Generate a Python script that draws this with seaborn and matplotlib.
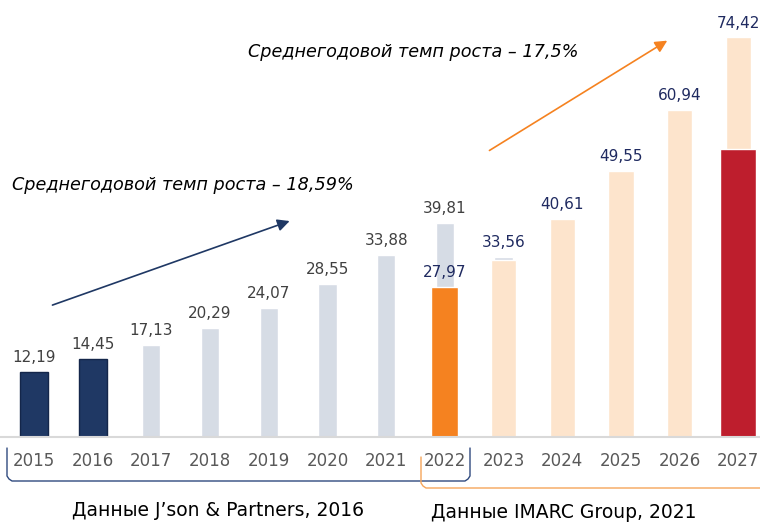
import matplotlib
matplotlib.use("Agg")
import matplotlib.pyplot as plt
from matplotlib.transforms import Affine2D
import seaborn as sns

# data
years = [str(y) for y in range(2015, 2028)]

fact_years = ["2015", "2016"]
fact_values = [12.19, 14.45]

jp_years = ["2017", "2018", "2019", "2020", "2021", "2022", "2023"]
jp_values = [17.13, 20.29, 24.07, 28.55, 33.88, 39.81, 33.56]

imarc_fact_years = ["2022"]
imarc_fact_values = [27.97]

imarc_years = ["2023", "2024", "2025", "2026", "2027"]
imarc_values = [32.9, 40.61, 49.55, 60.94, 74.42]

red_years = ["2027"]
red_values = [53.6]

label_years = years[:8] + ["2022"] + years[8:]
label_values = [12.19, 14.45, 17.13, 20.29, 24.07, 28.55, 33.88, 39.81,
                27.97, 33.56, 40.61, 49.55, 60.94, 74.42]

NAVY = "#1F3864"
GREY_BAR = "#D6DCE5"
ORANGE = "#F58220"
PEACH = "#FDE4CC"
RED = "#BE1E2D"
LABEL_GREY = "#404040"
LABEL_NAVY = "#1F2A60"

sns.set_theme(style="white")
plt.rcParams["font.family"] = ["DejaVu Sans"]

fig = plt.figure(figsize=(7.6, 5.24), dpi=100)
ax = fig.add_axes([0, 1 - 437 / 524, 1, 437 / 524])


def bars(yrs, vals, color, width, **kw):
    sns.barplot(x=yrs, y=vals, order=years, color=color, width=width,
                saturation=1, errorbar=None, ax=ax, **kw)


bars(jp_years, jp_values, GREY_BAR, 0.31)
bars(imarc_years, imarc_values, PEACH, 0.43)
bars(fact_years, fact_values, NAVY, 0.48, edgecolor="#14264a", linewidth=1)
bars(imarc_fact_years, imarc_fact_values, ORANGE, 0.46)
bars(red_years, red_values, RED, 0.61)

ax.set_xlim(-0.579, 12.37)
ax.set_ylim(0, 81.4)
ax.axhline(0, color="#D9D9D9", lw=1.5, clip_on=False, zorder=5)
for s in ax.spines.values():
    s.set_visible(False)
ax.set_yticks([])
ax.set_xlabel("")
ax.set_ylabel("")
ax.tick_params(axis="x", length=0, pad=11, labelsize=12, labelcolor="#595959")

# value labels
for i, (yr, v) in enumerate(zip(label_years, label_values)):
    col = LABEL_GREY if i < 8 else LABEL_NAVY
    ax.annotate(f"{v:.2f}".replace(".", ","), (years.index(yr), v),
                xytext=(0, 5), textcoords="offset points",
                ha="center", va="bottom", fontsize=11, color=col)

# growth annotations
ax.annotate("", xy=(4.40, 40.4), xytext=(0.27, 24.4),
            arrowprops=dict(arrowstyle="-|>", color=NAVY, lw=1.2, mutation_scale=18))
ax.annotate("", xy=(10.83, 74.1), xytext=(7.72, 53.1),
            arrowprops=dict(arrowstyle="-|>", color=ORANGE, lw=1.2, mutation_scale=18))
ax.text(-0.37, 46.9, "Среднегодовой темп роста – 18,59%", style="italic",
        fontsize=12.7, color="black", va="center", ha="left")
ax.text(3.65, 71.7, "Среднегодовой темп роста – 17,5%", style="italic",
        fontsize=12.7, color="black", va="center", ha="left")

# brackets under the axis (pixel coords from top-left)
px = Affine2D().scale(1 / 760, -1 / 524).translate(0, 1) + fig.transFigure
fig.add_artist(plt.Line2D([7, 7, 9, 12, 465, 468, 470, 470],
                          [448, 476, 479, 481, 481, 479, 476, 448],
                          transform=px, color="#2F4A7F", lw=1))
fig.add_artist(plt.Line2D([421, 421, 423, 426, 760],
                          [457, 483, 486, 488, 488],
                          transform=px, color="#F5A55A", lw=1))
fig.text(218 / 760, 1 - 511 / 524, "Данные J’son & Partners, 2016",
         ha="center", va="center", fontsize=13.5, color="black")
fig.text(564 / 760, 1 - 512 / 524, "Данные IMARC Group, 2021",
         ha="center", va="center", fontsize=13.5, color="black")

fig.savefig("out.png", dpi=100)
